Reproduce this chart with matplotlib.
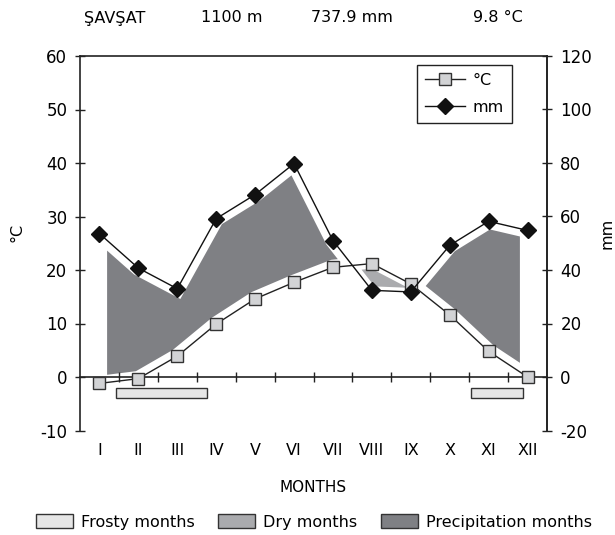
import matplotlib
matplotlib.use("Agg")
import matplotlib.pyplot as plt
from matplotlib.lines import Line2D
from matplotlib.patches import Patch, Rectangle
import numpy as np

plt.rcParams['font.family'] = ['DejaVu Sans']
plt.rcParams['axes.unicode_minus'] = False

months = ['I', 'II', 'III', 'IV', 'V', 'VI', 'VII', 'VIII', 'IX', 'X', 'XI', 'XII']
temp_c = [-1.2, -0.3, 3.9, 9.9, 14.6, 17.7, 20.5, 21.2, 17.4, 11.6, 4.8, 0.0]
precip_mm = [53.6, 40.7, 33.0, 59.2, 68.2, 79.8, 51.0, 32.4, 31.8, 49.2, 58.2, 54.8]
frost_periods = [(1.42, 3.77), (10.54, 11.88)]
title_items = ['ŞAVŞAT', '1100 m', '737.9 mm', '9.8 °C']
title_x = [115, 232, 352, 498]

WET = '#7f8084'
DRY = '#aaabae'
FROST = '#e6e6e6'
SQ = '#d2d3d5'

x = np.arange(1, 13)
t = np.array(temp_c)
p = np.array(precip_mm) / 2.0

fig = plt.figure(figsize=(6.15, 5.35), dpi=100)
ax = fig.add_axes([80/615, 1 - 430.5/535, (547-80)/615, (430.5-56)/535])
ax.set_xlim(0.5, 12.5)
ax.set_ylim(-10, 60)

ax.fill_between(x, t, p, where=p >= t, interpolate=True, facecolor=WET,
                edgecolor='white', linewidth=11, joinstyle='miter', zorder=1)
ax.fill_between(x, t, p, where=p < t, interpolate=True, facecolor=DRY,
                edgecolor='white', linewidth=6.5, joinstyle='miter', zorder=1)

ax.plot(x, t, color='#222222', lw=1, marker='s', ms=8, mfc=SQ, mec='#333333',
        mew=1, zorder=4, clip_on=False)
ax.plot(x, p, color='#111111', lw=1, marker='D', ms=8, mfc='#111111', mec='#111111',
        zorder=4, clip_on=False)

for a, b in frost_periods:
    ax.add_patch(Rectangle((a, -4.0), b - a, 1.9, facecolor=FROST,
                           edgecolor='#333333', lw=1, zorder=3))

ax.spines['bottom'].set_position(('data', 0))
ax.spines['bottom'].set_zorder(2)
for s in ax.spines.values():
    s.set_linewidth(1.2)
    s.set_color('#222222')

ax.set_xticks(np.arange(1.5, 12.5, 1.0))
ax.set_xticklabels([])
ax.tick_params(axis='x', direction='inout', length=7.2, width=1, color='#222222')
ax.set_yticks(np.arange(-10, 61, 10))
ax.tick_params(axis='y', direction='inout', length=7.2, width=1, color='#222222',
               labelsize=12, pad=5.5)

for xi, m in zip(x, months):
    ax.text(xi, -13.7, m, ha='center', va='center', fontsize=11.5)

ax2 = ax.twinx()
ax2.set_ylim(-20, 120)
ax2.set_yticks(np.arange(-20, 121, 20))
ax2.tick_params(axis='y', direction='inout', length=7.2, width=1, color='#222222',
                labelsize=12, pad=6)
ax2.spines['bottom'].set_visible(False)
ax2.spines['top'].set_visible(False)
ax2.spines['left'].set_visible(False)
ax2.spines['right'].set_linewidth(1.2)
ax2.spines['right'].set_color('#222222')

fig.text(17/615, 1 - 232/535, '°C', rotation=90, ha='center', va='center', fontsize=11.5)
fig.text(607/615, 1 - 233/535, 'mm', rotation=90, ha='center', va='center', fontsize=11.5)
fig.text(313/615, 1 - 487/535, 'MONTHS', ha='center', va='center', fontsize=11)

for tx, s in zip(title_x, title_items):
    fig.text(tx/615, 1 - 18/535, s, ha='center', va='center', fontsize=11.5)

h1 = Line2D([], [], color='#222222', lw=1, marker='s', ms=8, mfc=SQ, mec='#333333')
h2 = Line2D([], [], color='#111111', lw=1, marker='D', ms=8, mfc='#111111')
leg = ax.legend([h1, h2], ['°C', 'mm'], loc='upper right', bbox_to_anchor=(0.925, 0.976),
                fontsize=11.5, frameon=True, fancybox=False, edgecolor='#222222',
                framealpha=1, handlelength=2.5, borderpad=0.5, labelspacing=0.75,
                handletextpad=0.5, borderaxespad=0)
leg.get_frame().set_linewidth(1)
leg.set_zorder(6)

ph = [Patch(facecolor=FROST, edgecolor='#333333', lw=1),
      Patch(facecolor=DRY, edgecolor='#333333', lw=1),
      Patch(facecolor=WET, edgecolor='#333333', lw=1)]
fig.legend(ph, ['Frosty months', 'Dry months', 'Precipitation months'],
           loc='center', bbox_to_anchor=(314/615, 1 - 522/535), ncol=3, frameon=False,
           fontsize=11.5, handlelength=2.3, handleheight=1.0, handletextpad=0.5,
           columnspacing=1.5)

fig.savefig('out.png', dpi=100)
